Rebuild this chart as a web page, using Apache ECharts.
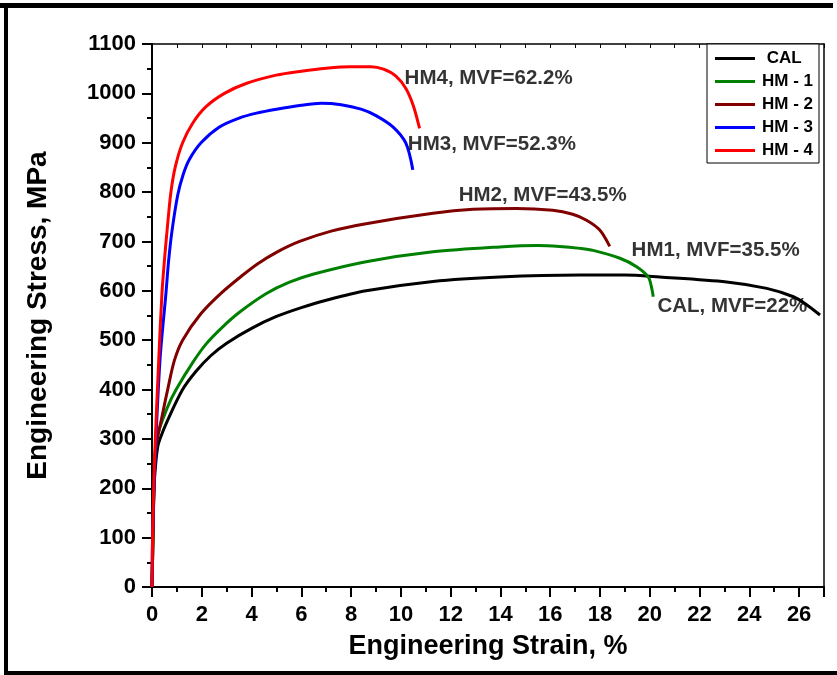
<!DOCTYPE html>
<html>
<head>
<meta charset="utf-8">
<script src="https://cdn.jsdelivr.net/npm/echarts@6/dist/echarts.min.js"></script>
<style>
html,body{margin:0;padding:0;background:#fff;}
#c{width:837px;height:675px;}
</style>
</head>
<body>
<div id="c"></div>
<script>
// ---- data (strain %, stress MPa) ----
const seriesNames = ['CAL', 'HM - 1', 'HM - 2', 'HM - 3', 'HM - 4'];
const seriesColors = ['#000000', '#008000', '#800000', '#0000ff', '#ff0000'];

const cal = [[0,0],[0.04,100],[0.08,200],[0.15,250],[0.23,284],[0.32,300],[0.63,338],[1.23,400],[1.77,437],[2.37,469],[3.0,494],[4.0,524],[5.0,548],[6.0,566],[7.0,581],[8.6,600],[11.29,619],[13.97,628],[17.19,632],[19.0,632],[20.4,628],[23.09,618],[24.7,605],[25.77,588],[26.3,572],[26.84,551]];
const hm1 = [[0,0],[0.04,100],[0.08,200],[0.19,300],[0.63,365],[0.97,400],[1.64,455],[2.17,492],[2.8,525],[3.5,556],[4.58,594],[5.5,617],[6.5,634],[8.6,659],[11.29,679],[13.97,689],[15.5,692],[16.38,690],[17.2,686],[17.72,682],[18.8,666],[19.47,649],[19.94,628],[20.08,605],[20.14,588]];
const hm2 = [[0,0],[0.04,100],[0.08,200],[0.15,280],[0.4,345],[0.63,400],[0.9,459],[1.23,500],[1.97,554],[2.77,595],[3.65,632],[4.25,655],[5.0,678],[5.93,700],[7.2,721],[8.6,736],[11.29,757],[12.9,765],[14.64,767],[16.1,763],[16.9,755],[17.46,743],[17.99,723],[18.39,690]];
const hm3 = [[0,0],[0.03,120],[0.12,257],[0.32,459],[0.56,595],[0.67,662],[0.8,720],[1.03,793],[1.25,835],[1.5,866],[1.97,900],[2.71,932],[3.5,950],[4.2,960],[5.0,968],[6.0,976],[6.8,980],[7.6,977],[8.4,968],[9.0,955],[9.68,932],[10.2,899],[10.48,845]];
const hm4 = [[0,0],[0.03,120],[0.1,257],[0.27,459],[0.4,595],[0.5,662],[0.62,730],[0.76,800],[0.94,852],[1.23,900],[1.64,940],[2.17,973],[2.91,1000],[3.78,1020],[4.99,1037],[6.0,1045],[7.0,1051],[8.0,1054],[8.8,1054],[9.3,1049],[9.8,1035],[10.2,1010],[10.5,975],[10.75,929]];

const annotationTexts = ['CAL, MVF=22%', 'HM1, MVF=35.5%', 'HM2, MVF=43.5%', 'HM3, MVF=52.3%', 'HM4, MVF=62.2%'];
const annotationAt = [[20.31,568],[19.27,682],[12.32,793],[10.28,896],[10.15,1031]];

const xTicks = {min: 0, max: 27, interval: 2};
const yTicks = {min: 0, max: 1100, interval: 100};

// ---- chart ----
const FONT = '"Liberation Sans", Arial, sans-serif';
const chart = echarts.init(document.getElementById('c'), null, {renderer: 'canvas'});
const curves = [cal, hm1, hm2, hm3, hm4];

const series = curves.map((d, i) => ({
  name: seriesNames[i],
  type: 'line',
  data: d,
  symbol: 'none',
  showSymbol: false,
  smooth: 0.3,
  xAxisIndex: 0, yAxisIndex: 0,
  lineStyle: {color: seriesColors[i], width: 3},
  itemStyle: {color: seriesColors[i]},
  z: 3 + i
}));
series.push({
  type: 'scatter',
  name: 'labels',
  symbolSize: 0,
  data: annotationAt.map((p, i) => ({value: p, name: annotationTexts[i]})),
  label: {
    show: true, position: 'right', distance: 0,
    formatter: p => p.name,
    fontFamily: FONT, fontWeight: 'bold', fontSize: 20.5, color: '#000'
  },
  silent: true,
  z: 10
});

chart.setOption({
  animation: false,
  backgroundColor: '#fff',
  grid: {left: 152, top: 44, right: 13, bottom: 88, containLabel: false},
  legend: {
    data: seriesNames.map((n, i) => ({name: n, icon: 'rect', itemStyle: {color: seriesColors[i]}})),
    orient: 'vertical',
    left: 707, top: 44,
    padding: [6, 6, 4, 8],
    itemGap: 6,
    itemWidth: 40, itemHeight: 3,
    borderColor: '#000', borderWidth: 1, borderRadius: 0,
    backgroundColor: '#fff',
    formatter: n => n === 'CAL' ? ' CAL' : n,
    textStyle: {fontFamily: FONT, fontWeight: 'bold', fontSize: 17, lineHeight: 17, color: '#000', padding: [0, 0, 0, 2]}
  },
  xAxis: [{
    type: 'value', min: xTicks.min, max: xTicks.max, interval: xTicks.interval,
    name: 'Engineering Strain, %', nameLocation: 'middle', nameGap: 46,
    nameTextStyle: {fontFamily: FONT, fontWeight: 'bold', fontSize: 27, color: '#000'},
    axisLine: {show: true, onZero: false, lineStyle: {color: '#000', width: 2}},
    axisTick: {show: true, inside: false, length: 10, lineStyle: {color: '#000', width: 2}},
    minorTick: {show: true, splitNumber: 2, length: 5, lineStyle: {color: '#000', width: 2}},
    axisLabel: {margin: 17, fontFamily: FONT, fontWeight: 'bold', fontSize: 22, color: '#000',
      showMaxLabel: false, formatter: v => String(v)},
    splitLine: {show: false}
  }, {
    type: 'value', position: 'top', min: xTicks.min, max: xTicks.max, interval: 1,
    axisLine: {show: true, onZero: false, lineStyle: {color: '#000', width: 1.5}},
    axisTick: {show: true, inside: true, length: 4, lineStyle: {color: '#000', width: 1}},
    axisLabel: {show: false},
    splitLine: {show: false}
  }],
  yAxis: [{
    type: 'value', min: yTicks.min, max: yTicks.max, interval: yTicks.interval,
    name: 'Engineering Stress, MPa', nameLocation: 'middle', nameGap: 100, nameRotate: 90,
    nameTextStyle: {fontFamily: FONT, fontWeight: 'bold', fontSize: 28, color: '#000'},
    axisLine: {show: true, onZero: false, lineStyle: {color: '#000', width: 2}},
    axisTick: {show: true, inside: false, length: 10, lineStyle: {color: '#000', width: 2}},
    minorTick: {show: true, splitNumber: 2, length: 5, lineStyle: {color: '#000', width: 2}},
    axisLabel: {margin: 16, fontFamily: FONT, fontWeight: 'bold', fontSize: 22, color: '#000',
      formatter: v => String(v)},
    splitLine: {show: false}
  }, {
    type: 'value', position: 'right', min: yTicks.min, max: yTicks.max, interval: yTicks.interval,
    axisLine: {show: true, onZero: false, lineStyle: {color: '#000', width: 1.5}},
    axisTick: {show: false},
    axisLabel: {show: false},
    splitLine: {show: false}
  }],
  graphic: [
    {type: 'rect', shape: {x: 0, y: 3, width: 833, height: 5}, style: {fill: '#000'}, silent: true},
    {type: 'rect', shape: {x: 4, y: 3, width: 4, height: 672}, style: {fill: '#000'}, silent: true},
    {type: 'rect', shape: {x: 4, y: 671, width: 833, height: 4}, style: {fill: '#000'}, silent: true}
  ],
  series: series
});
</script>
</body>
</html>
